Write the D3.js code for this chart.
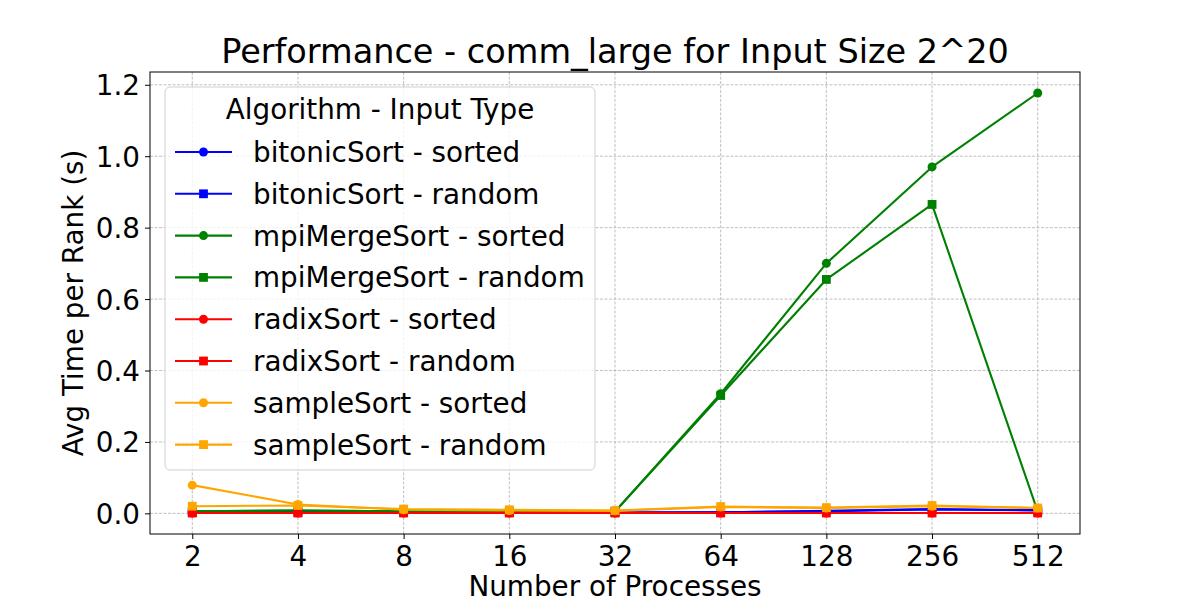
<!DOCTYPE html>
<html>
<head>
<meta charset="utf-8">
<script src="https://cdn.jsdelivr.net/npm/d3@7.9.0/dist/d3.min.js"></script>
<style>
  html, body { margin: 0; padding: 0; background: #fff; }
  svg { display: block; font-family: "DejaVu Sans", sans-serif; }
</style>
</head>
<body>
<svg id="chart" width="1200" height="600"></svg>
<script>
const procs = ["2", "4", "8", "16", "32", "64", "128", "256", "512"];

const bitonicSorted = [0.002, 0.003, 0.003, 0.002, 0.002, 0.003, 0.006, 0.011, 0.008];
const bitonicRandom = [0.002, 0.003, 0.003, 0.002, 0.002, 0.003, 0.007, 0.012, 0.009];
const mpiMergeSorted = [0.006, 0.008, 0.006, 0.005, 0.005, 0.335, 0.700, 0.970, 1.177];
const mpiMergeRandom = [0.006, 0.008, 0.006, 0.005, 0.005, 0.330, 0.655, 0.865, 0.005];
const radixSorted = [0.001, 0.001, 0.001, 0.001, 0.001, 0.001, 0.001, 0.001, 0.001];
const radixRandom = [0.001, 0.001, 0.001, 0.001, 0.001, 0.001, 0.001, 0.001, 0.001];
const sampleSorted = [0.079, 0.025, 0.010, 0.008, 0.007, 0.018, 0.015, 0.020, 0.015];
const sampleRandom = [0.020, 0.022, 0.012, 0.010, 0.008, 0.019, 0.016, 0.022, 0.015];

const yTicks = [0.0, 0.2, 0.4, 0.6, 0.8, 1.0, 1.2];

const series = [
  { name: "bitonicSort - sorted", color: "blue", marker: "circle", values: bitonicSorted },
  { name: "bitonicSort - random", color: "blue", marker: "square", values: bitonicRandom },
  { name: "mpiMergeSort - sorted", color: "green", marker: "circle", values: mpiMergeSorted },
  { name: "mpiMergeSort - random", color: "green", marker: "square", values: mpiMergeRandom },
  { name: "radixSort - sorted", color: "red", marker: "circle", values: radixSorted },
  { name: "radixSort - random", color: "red", marker: "square", values: radixRandom },
  { name: "sampleSort - sorted", color: "orange", marker: "circle", values: sampleSorted },
  { name: "sampleSort - random", color: "orange", marker: "square", values: sampleRandom }
];

const svg = d3.select("#chart");
const margin = { top: 72, right: 120, bottom: 66, left: 150 };
const width = 1200 - margin.left - margin.right;
const height = 600 - margin.top - margin.bottom;
const fs = "27.8px";

const g = svg.append("g")
  .attr("transform", `translate(${margin.left},${margin.top})`);

// categorical x with matplotlib-like 5% padding
const idx = d3.range(procs.length);
const x = d3.scaleLinear()
  .domain([-0.4, procs.length - 1 + 0.4])
  .range([0, width]);

const allVals = series.flatMap(s => s.values);
const [yMin, yMax] = d3.extent(allVals);
const pad = (yMax - yMin) * 0.05;
const y = d3.scaleLinear()
  .domain([yMin - pad, yMax + pad])
  .range([height, 0]);

// grid
const gridColor = "#b0b0b0";
g.append("g")
  .selectAll("line")
  .data(idx)
  .join("line")
  .attr("x1", d => x(d)).attr("x2", d => x(d))
  .attr("y1", 0).attr("y2", height)
  .attr("stroke", gridColor)
  .attr("stroke-width", 0.8)
  .attr("stroke-dasharray", "3,1.5");

g.append("g")
  .selectAll("line")
  .data(yTicks)
  .join("line")
  .attr("x1", 0).attr("x2", width)
  .attr("y1", d => y(d)).attr("y2", d => y(d))
  .attr("stroke", gridColor)
  .attr("stroke-width", 0.8)
  .attr("stroke-dasharray", "3,1.5");

// axes
const xAxis = g.append("g")
  .attr("transform", `translate(0,${height})`)
  .call(d3.axisBottom(x).tickValues(idx).tickFormat(i => procs[i]).tickSize(5).tickPadding(5));

const yAxis = g.append("g")
  .call(d3.axisLeft(y).tickValues(yTicks).tickFormat(d3.format(".1f")).tickSize(5).tickPadding(5));

[xAxis, yAxis].forEach(a => {
  a.select(".domain").remove();
  a.selectAll("line").attr("stroke", "#000").attr("stroke-width", 1);
  a.selectAll("text")
    .attr("fill", "#000")
    .attr("font-size", fs)
    .attr("font-family", "DejaVu Sans");
});
xAxis.selectAll("text").attr("dy", "0.79em");
yAxis.selectAll("text").attr("dy", "0.36em");

// lines + markers
const line = d3.line()
  .x((d, i) => x(i))
  .y(d => y(d));

series.forEach(s => {
  g.append("path")
    .datum(s.values)
    .attr("fill", "none")
    .attr("stroke", s.color)
    .attr("stroke-width", 2.1)
    .attr("stroke-linejoin", "round")
    .attr("d", line);

  if (s.marker === "circle") {
    g.append("g").selectAll("circle")
      .data(s.values)
      .join("circle")
      .attr("cx", (d, i) => x(i))
      .attr("cy", d => y(d))
      .attr("r", 4.5)
      .attr("fill", s.color);
  } else {
    g.append("g").selectAll("rect")
      .data(s.values)
      .join("rect")
      .attr("x", (d, i) => x(i) - 4.4)
      .attr("y", d => y(d) - 4.4)
      .attr("width", 8.8)
      .attr("height", 8.8)
      .attr("fill", s.color);
  }
});

// frame
g.append("rect")
  .attr("width", width)
  .attr("height", height)
  .attr("fill", "none")
  .attr("stroke", "#000")
  .attr("stroke-width", 1);

// title and axis labels
svg.append("text")
  .attr("x", margin.left + width / 2)
  .attr("y", 63)
  .attr("text-anchor", "middle")
  .attr("font-size", "33.5px")
  .attr("fill", "#000")
  .text("Performance - comm_large for Input Size 2^20");

svg.append("text")
  .attr("x", margin.left + width / 2)
  .attr("y", 596)
  .attr("text-anchor", "middle")
  .attr("font-size", fs)
  .attr("fill", "#000")
  .text("Number of Processes");

svg.append("text")
  .attr("transform", `translate(83,${margin.top + height / 2}) rotate(-90)`)
  .attr("text-anchor", "middle")
  .attr("font-size", fs)
  .attr("fill", "#000")
  .text("Avg Time per Rank (s)");

// legend
const legend = svg.append("g").attr("transform", "translate(165,87)");
legend.append("rect")
  .attr("width", 430)
  .attr("height", 383)
  .attr("rx", 5)
  .attr("fill", "#fff")
  .attr("fill-opacity", 0.8)
  .attr("stroke", "#d0d0d0")
  .attr("stroke-width", 1);

legend.append("text")
  .attr("x", 215)
  .attr("y", 32)
  .attr("text-anchor", "middle")
  .attr("font-size", fs)
  .attr("fill", "#000")
  .text("Algorithm - Input Type");

const rowH = 41.8;
series.forEach((s, i) => {
  const cy = 65 + i * rowH;
  const row = legend.append("g").attr("transform", `translate(0,${cy})`);
  row.append("line")
    .attr("x1", 10).attr("x2", 67)
    .attr("y1", 0).attr("y2", 0)
    .attr("stroke", s.color)
    .attr("stroke-width", 2.1);
  if (s.marker === "circle") {
    row.append("circle").attr("cx", 38.5).attr("cy", 0).attr("r", 4.5).attr("fill", s.color);
  } else {
    row.append("rect").attr("x", 34.1).attr("y", -4.4).attr("width", 8.8).attr("height", 8.8).attr("fill", s.color);
  }
  row.append("text")
    .attr("x", 88)
    .attr("y", 0)
    .attr("dy", "0.36em")
    .attr("font-size", fs)
    .attr("fill", "#000")
    .text(s.name);
});
</script>
</body>
</html>
